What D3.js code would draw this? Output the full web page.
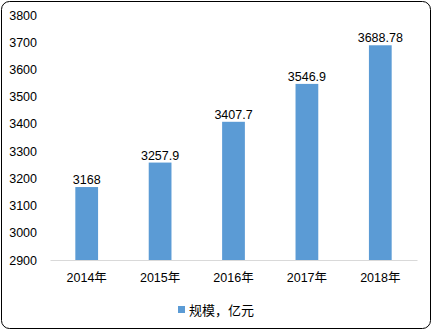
<!DOCTYPE html>
<html>
<head>
<meta charset="utf-8">
<script src="https://cdn.jsdelivr.net/npm/d3@7"></script>
<style>
  body { margin: 0; background: #fff; }
  svg { display: block; font-family: "Liberation Sans", "Noto Sans CJK SC", sans-serif; }
</style>
</head>
<body>
<div id="chart"></div>
<script>
// Chart data
const years = ["2014年", "2015年", "2016年", "2017年", "2018年"];
const values = [3168, 3257.9, 3407.7, 3546.9, 3688.78];
const valueLabels = ["3168", "3257.9", "3407.7", "3546.9", "3688.78"];
const yTicks = [2900, 3000, 3100, 3200, 3300, 3400, 3500, 3600, 3700, 3800];
const seriesName = "规模，亿元";

const width = 432, height = 330;
const margin = { top: 15, right: 15, bottom: 70, left: 50 };

const svg = d3.select('#chart')
    .append('svg')
    .attr('width', width)
    .attr('height', height);

// outer rounded frame
svg.append('rect')
    .attr('x', 1.5).attr('y', 1.5)
    .attr('width', width - 3).attr('height', height - 3)
    .attr('rx', 8).attr('ry', 8)
    .attr('fill', '#fff')
    .attr('stroke', '#000')
    .attr('stroke-width', 1);

const x = d3.scaleBand()
    .domain(years)
    .range([margin.left, width - margin.right])
    .paddingInner(0.69)
    .paddingOuter(0.345);

const y = d3.scaleLinear()
    .domain([2900, 3800])
    .range([height - margin.bottom, margin.top]);

// y axis labels
const yAxis = d3.axisLeft(y).tickValues(yTicks).tickFormat(d3.format('d')).tickSize(0).tickPadding(13);
svg.append('g')
    .attr('transform', `translate(${margin.left},0)`)
    .call(yAxis)
    .call(g => g.select('.domain').remove())
    .selectAll('text')
    .attr('font-size', 12.5)
    .attr('fill', '#000')
    .style('font-family', '"Liberation Sans", sans-serif');

// bars
svg.selectAll('.bar')
    .data(values)
    .enter()
    .append('rect')
    .attr('class', 'bar')
    .attr('x', (d, i) => x(years[i]))
    .attr('y', d => y(d))
    .attr('width', x.bandwidth())
    .attr('height', d => y(2900) - y(d))
    .attr('fill', '#5b9bd5');

// value labels
svg.selectAll('.val')
    .data(values)
    .enter()
    .append('text')
    .attr('class', 'val')
    .attr('x', (d, i) => x(years[i]) + x.bandwidth() / 2)
    .attr('y', d => y(d) - 3)
    .attr('text-anchor', 'middle')
    .attr('font-size', 12.5)
    .attr('fill', '#000')
    .text((d, i) => valueLabels[i]);

// x axis
const xAxis = d3.axisBottom(x).tickSize(0).tickPadding(13);
svg.append('g')
    .attr('transform', `translate(0,${y(2900)})`)
    .call(xAxis)
    .call(g => g.select('.domain').attr('stroke', '#d9d9d9'))
    .selectAll('text')
    .attr('font-size', 12.5)
    .attr('fill', '#000')
    .style('font-family', '"Liberation Sans", "Noto Sans CJK SC", sans-serif');

// legend
const legend = svg.append('g').attr('transform', 'translate(178,310)');
legend.append('rect')
    .attr('x', 0).attr('y', -4)
    .attr('width', 7).attr('height', 7)
    .attr('fill', '#5b9bd5');
legend.append('text')
    .attr('x', 11).attr('y', 0)
    .attr('dy', '0.35em')
    .attr('font-size', 13)
    .attr('fill', '#000')
    .text(seriesName);
</script>
</body>
</html>
